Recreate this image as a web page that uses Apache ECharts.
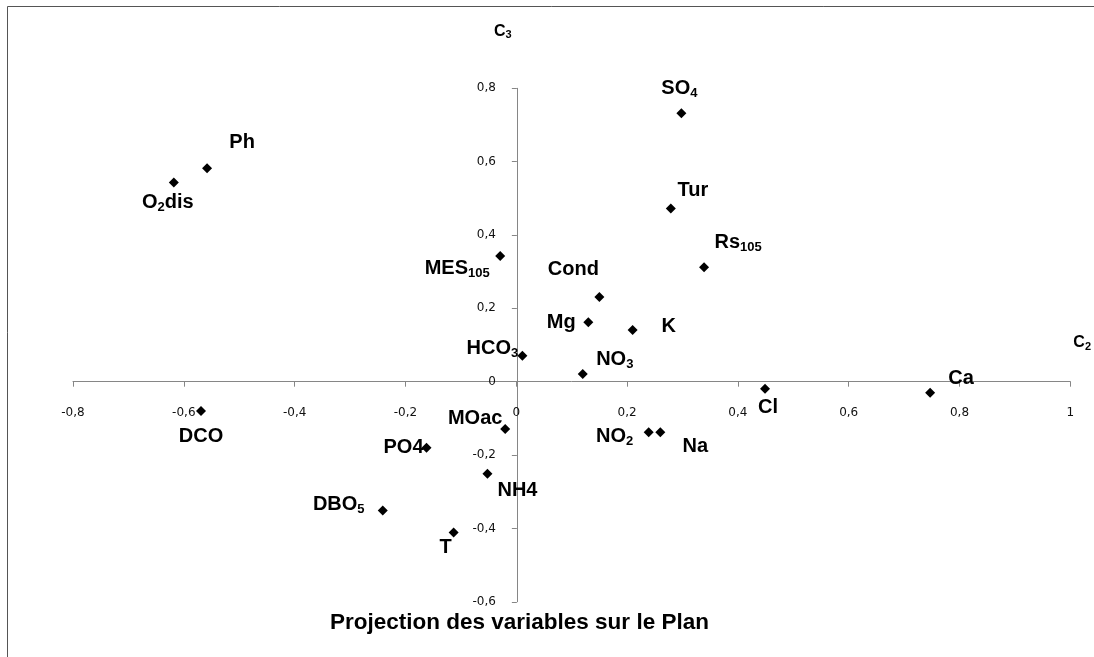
<!DOCTYPE html>
<html>
<head>
<meta charset="utf-8">
<script src="https://cdn.jsdelivr.net/npm/echarts@6/dist/echarts.min.js"></script>
<style>html,body{margin:0;padding:0;background:#fff}#c{width:1094px;height:657px}</style>
</head>
<body>
<div id="c"></div>
<script>
// ---- data ----
const labels = ['{b|Ph}', '{b|O}{s|2}{b|dis}', '{b|SO}{s|4}', '{b|Tur}', '{b|Rs}{s|105}', '{b|MES}{s|105}',
  '{b|Cond}', '{b|Mg}', '{b|K}', '{b|HCO}{s|3}', '{b|NO}{s|3}', '{b|Cl}', '{b|Ca}', '{b|NO}{s|2}', '{b|Na}',
  '{b|MOac}', '{b|PO4}', '{b|NH4}', '{b|DBO}{s|5}', '{b|T}', '{b|DCO}'];
const xC2 = [-0.558, -0.618, 0.298, 0.279, 0.339, -0.029, 0.150, 0.130, 0.210, 0.011, 0.120, 0.449, 0.747,
  0.239, 0.260, -0.020, -0.162, -0.052, -0.241, -0.113, -0.569];
const yC3 = [0.582, 0.543, 0.732, 0.472, 0.312, 0.343, 0.231, 0.162, 0.141, 0.071, 0.021, -0.019, -0.030,
  -0.138, -0.138, -0.129, -0.180, -0.251, -0.351, -0.411, -0.080];
const xAxisName = '{cap|C}{idx|2}';
const yAxisName = '{cap|C}{idx|3}';
const titleText = 'Projection des variables sur le Plan';

// ---- layout (label offsets relative to points, px) ----
const labelOffsets = [[35,-27],[-6,19],[-2,-26],[22,-19],[34,-26],[-43,12],[-26,-28],[-27,-1],[36,-5],
  [-30,-8],[32,-16],[3,18],[31,-15],[-34,3],[35,13],[-30,-12],[-23,-1],[30,16],[-44,-7],[-8,14],[0,24]];

const FONT = "'Liberation Sans', Arial, sans-serif";
const TICKFONT = "'DejaVu Sans', 'Liberation Sans', sans-serif";
const axisGray = '#868686';

const GRID = { left: 73, right: 22.3, top: 88.3, bottom: 55.25 };
const XMIN = -0.8, XMAX = 1, YMIN = -0.6, YMAX = 0.8;
const plotW = 1094 - GRID.left - GRID.right;
const plotH = 657 - GRID.top - GRID.bottom;
// axes cross at zero: shift each axis from the grid edge to the other axis' zero
const yAxisShift = plotW * (0 - XMIN) / (XMAX - XMIN);
const xAxisShift = plotH * (0 - YMIN) / (YMAX - YMIN);

const data = labels.map((t, i) => ({
  value: [xC2[i], yC3[i]],
  name: t,
  label: { offset: [labelOffsets[i][0], labelOffsets[i][1] - 9] }
}));

const fmt = v => String(Math.round(v * 10) / 10).replace('.', ',');

const nameRich = {
  cap: { fontSize: 16, fontWeight: 'bold', fontFamily: FONT, color: '#000', height: 16, lineHeight: 16, verticalAlign: 'top' },
  idx: { fontSize: 11, fontWeight: 'bold', fontFamily: FONT, color: '#000', height: 24, lineHeight: 24, verticalAlign: 'top' }
};
const nameStyleBase = { fontFamily: FONT, fontSize: 16, fontWeight: 'bold', color: '#000', rich: nameRich };

const chart = echarts.init(document.getElementById('c'), null, { renderer: 'canvas' });
chart.setOption({
  animation: false,
  backgroundColor: '#fff',
  title: {
    text: titleText,
    left: 330,
    top: 611,
    padding: 0,
    textStyle: { fontFamily: FONT, fontSize: 22.5, fontWeight: 'bold', color: '#000' }
  },
  graphic: [{
    type: 'rect',
    shape: { x: 7.5, y: 6.5, width: 1200, height: 1000 },
    style: { fill: 'none', stroke: '#555', lineWidth: 1 },
    silent: true
  }],
  grid: { left: GRID.left, right: GRID.right, top: GRID.top, bottom: GRID.bottom, containLabel: false },
  xAxis: {
    type: 'value', min: XMIN, max: XMAX, interval: 0.2,
    position: 'bottom', offset: -xAxisShift,
    name: xAxisName, nameLocation: 'end', nameGap: 3,
    nameTextStyle: Object.assign({}, nameStyleBase, { padding: [0, 0, 70, 0] }),
    axisLine: { show: true, onZero: false, lineStyle: { color: axisGray, width: 1 } },
    axisTick: { show: true, length: 5, lineStyle: { color: axisGray } },
    axisLabel: { margin: 25, formatter: fmt, fontFamily: TICKFONT, fontSize: 12, color: '#111' },
    splitLine: { show: false }
  },
  yAxis: {
    type: 'value', min: YMIN, max: YMAX, interval: 0.2,
    position: 'left', offset: -yAxisShift,
    name: yAxisName, nameLocation: 'end', nameGap: 41,
    nameTextStyle: Object.assign({}, nameStyleBase, { padding: [0, 28, 0, 0] }),
    axisLine: { show: true, onZero: false, lineStyle: { color: axisGray, width: 1 } },
    axisTick: { show: true, length: 5, lineStyle: { color: axisGray } },
    axisLabel: { margin: 21, formatter: fmt, fontFamily: TICKFONT, fontSize: 12, color: '#111' },
    splitLine: { show: false }
  },
  series: [{
    type: 'scatter',
    symbol: 'diamond',
    symbolSize: [10, 10],
    itemStyle: { color: '#000', opacity: 1 },
    label: {
      show: true,
      position: 'inside',
      align: 'center',
      verticalAlign: 'top',
      color: '#000',
      textBorderWidth: 0,
      fontWeight: 'bold',
      formatter: p => p.name,
      rich: {
        b: { fontSize: 20, fontWeight: 'bold', fontFamily: FONT, color: '#000', height: 20, lineHeight: 20, verticalAlign: 'top', textBorderWidth: 0 },
        s: { fontSize: 13, fontWeight: 'bold', fontFamily: FONT, color: '#000', height: 30, lineHeight: 30, verticalAlign: 'top', textBorderWidth: 0 }
      }
    },
    emphasis: { disabled: true },
    data: data
  }]
});
</script>
</body>
</html>
